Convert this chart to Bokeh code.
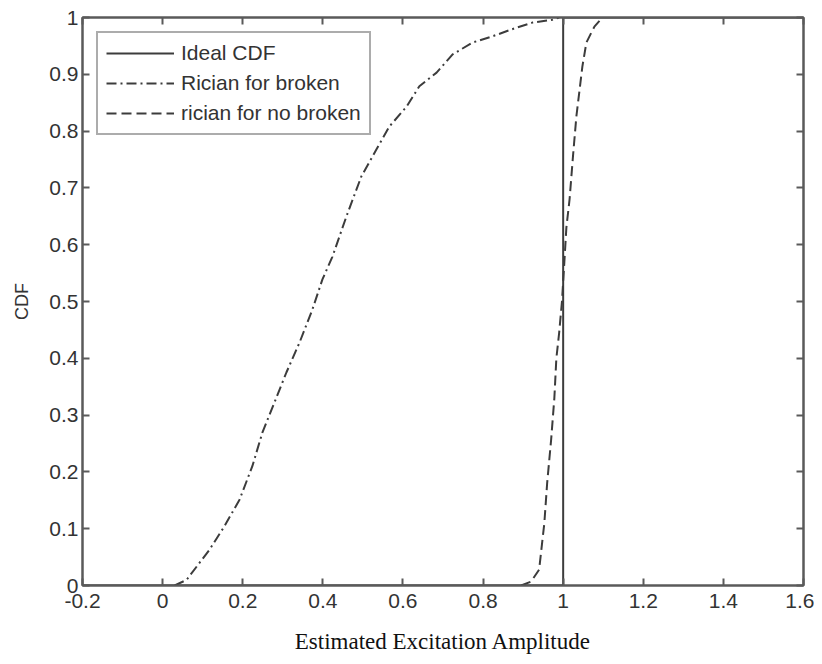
from bokeh.plotting import figure
from bokeh.models import Range1d, FixedTicker, LinearAxis, Legend, LegendItem
from bokeh.embed import file_html
from bokeh.resources import INLINE

# ---- data ----
ideal_x = [-0.2, 1.0, 1.0, 1.6]
ideal_y = [0.0, 0.0, 1.0, 1.0]

broken_x = [0.03, 0.06, 0.117, 0.154, 0.192, 0.224, 0.249, 0.279, 0.309, 0.342,
            0.374, 0.399, 0.424, 0.459, 0.496, 0.534, 0.566, 0.609, 0.641, 0.684,
            0.724, 0.774, 0.824, 0.883, 0.923, 0.973, 0.99]
broken_y = [0.0, 0.01, 0.063, 0.104, 0.151, 0.21, 0.269, 0.322, 0.375, 0.428,
            0.486, 0.539, 0.579, 0.65, 0.72, 0.768, 0.808, 0.843, 0.879, 0.903,
            0.935, 0.956, 0.967, 0.982, 0.991, 0.996, 1.0]

nobroken_x = [0.895, 0.92, 0.94, 0.953, 0.96, 0.97, 0.978, 0.983, 0.99, 0.997,
              1.003, 1.008, 1.016, 1.025, 1.033, 1.048, 1.058, 1.078, 1.098]
nobroken_y = [0.0, 0.007, 0.028, 0.11, 0.18, 0.257, 0.33, 0.4, 0.445, 0.5,
              0.57, 0.63, 0.68, 0.76, 0.826, 0.914, 0.956, 0.984, 1.0]

x_ticks = [-0.2, 0, 0.2, 0.4, 0.6, 0.8, 1, 1.2, 1.4, 1.6]
x_tick_labels = ["-0.2", "0", "0.2", "0.4", "0.6", "0.8", "1", "1.2", "1.4", "1.6"]
y_ticks = [0, 0.1, 0.2, 0.3, 0.4, 0.5, 0.6, 0.7, 0.8, 0.9, 1]
y_tick_labels = ["0", "0.1", "0.2", "0.3", "0.4", "0.5", "0.6", "0.7", "0.8", "0.9", "1"]

labels = ["Ideal CDF", "Rician for broken", "rician for no broken"]
x_title = "Estimated Excitation Amplitude"
y_title = "CDF"

# ---- styles ----
AX = "#5a5a5a"
LN = "#3c3c3c"
SANS = "Liberation Sans"
TICK_FS = "21px"

p = figure(width=814, height=656, x_range=Range1d(-0.2, 1.6), y_range=Range1d(0, 1),
           output_backend="svg", toolbar_location=None,
           min_border_left=82, min_border_right=11, min_border_top=17, min_border_bottom=70)
p.xgrid.visible = False
p.ygrid.visible = False
p.outline_line_color = AX
p.outline_line_width = 2
p.background_fill_color = "white"
p.border_fill_color = "white"

r0 = p.line(ideal_x, ideal_y, line_color=LN, line_width=2)
r1 = p.line(broken_x, broken_y, line_color=LN, line_width=2, line_dash="10 4 2 4")
r2 = p.line(nobroken_x, nobroken_y, line_color=LN, line_width=2, line_dash="10 5")

def style_axis(ax, ticks, lbls, show_labels=True):
    ax.ticker = FixedTicker(ticks=ticks)
    ax.major_label_overrides = {t: l for t, l in zip(ticks, lbls)}
    ax.minor_tick_line_color = None
    ax.major_tick_in = 7
    ax.major_tick_out = 0
    ax.major_tick_line_color = AX
    ax.major_tick_line_width = 2
    ax.axis_line_color = AX
    ax.axis_line_width = 2
    ax.major_label_text_font = SANS
    if show_labels:
        ax.major_label_text_font_size = TICK_FS
        ax.major_label_text_color = "#333333"
    else:
        ax.major_label_text_font_size = "1px"
        ax.major_label_text_color = None
        ax.major_label_standoff = 0

xa = p.xaxis[0]
ya = p.yaxis[0]
style_axis(xa, x_ticks, x_tick_labels)
style_axis(ya, y_ticks, y_tick_labels)
xa.major_label_standoff = 8
ya.major_label_standoff = 4

xa.axis_label = x_title
xa.axis_label_text_font = "Liberation Serif"
xa.axis_label_text_font_style = "normal"
xa.axis_label_text_font_size = "23px"
xa.axis_label_text_color = "#111111"
xa.axis_label_standoff = 18

ya.axis_label = y_title
ya.axis_label_text_font = SANS
ya.axis_label_text_font_style = "normal"
ya.axis_label_text_font_size = "18px"
ya.axis_label_text_color = "#333333"
ya.axis_label_standoff = 14

ra = LinearAxis()
style_axis(ra, y_ticks, y_tick_labels, show_labels=False)
p.add_layout(ra, "right")
ta = LinearAxis()
style_axis(ta, x_ticks, x_tick_labels, show_labels=False)
p.add_layout(ta, "above")

legend = Legend(items=[LegendItem(label=labels[0], renderers=[r0]),
                       LegendItem(label=labels[1], renderers=[r1]),
                       LegendItem(label=labels[2], renderers=[r2])],
                location="top_left")
legend.margin = 14
legend.padding = 8
legend.spacing = 6
legend.glyph_width = 68
legend.glyph_height = 20
legend.label_height = 20
legend.label_standoff = 7
legend.label_text_font = SANS
legend.label_text_font_size = "21px"
legend.label_text_color = "#333333"
legend.border_line_color = AX
legend.border_line_width = 2
legend.background_fill_alpha = 1.0
p.add_layout(legend, "center")

open("out.html", "w").write(file_html(p, INLINE))
